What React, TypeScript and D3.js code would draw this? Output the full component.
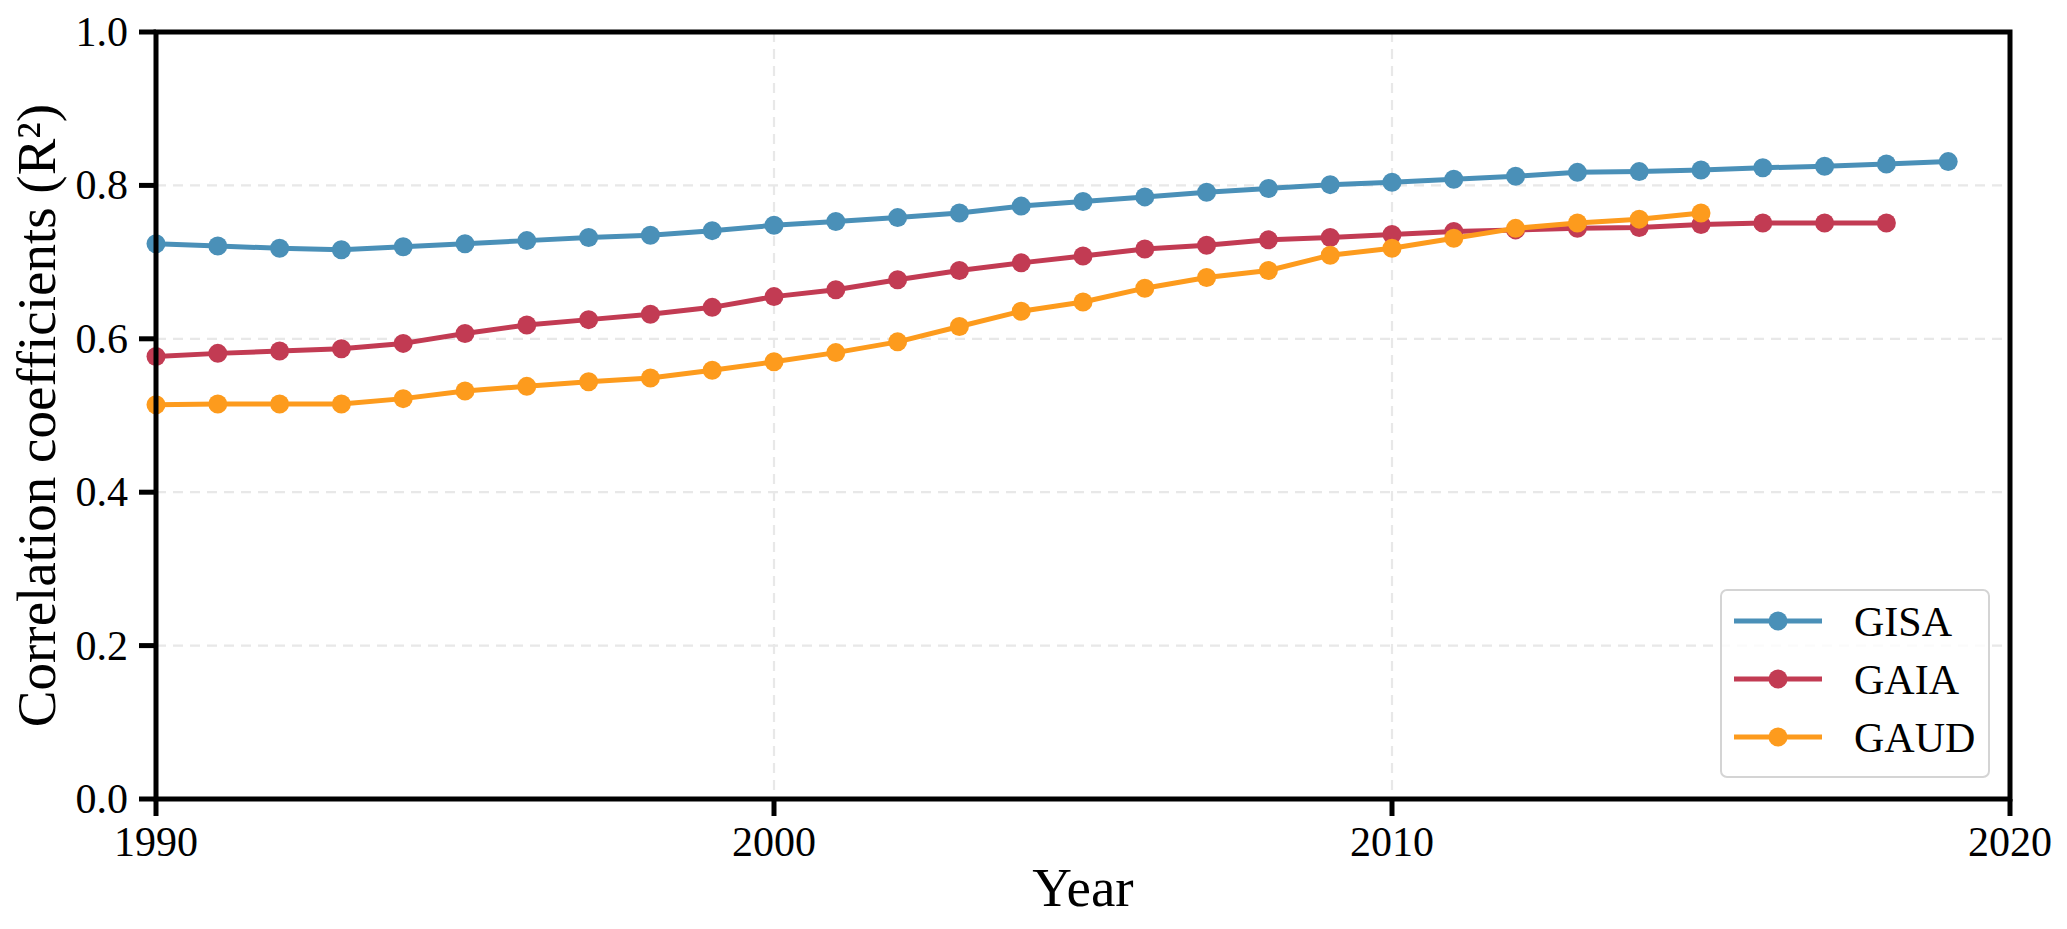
import React from "react";
import * as d3 from "d3";

const years: number[] = [
  1990, 1991, 1992, 1993, 1994, 1995, 1996, 1997, 1998, 1999,
  2000, 2001, 2002, 2003, 2004, 2005, 2006, 2007, 2008, 2009,
  2010, 2011, 2012, 2013, 2014, 2015, 2016, 2017, 2018, 2019,
];

const gisa: number[] = [
  0.724, 0.721, 0.718, 0.716, 0.72, 0.724, 0.728, 0.732, 0.735, 0.741,
  0.748, 0.753, 0.758, 0.764, 0.773, 0.779, 0.785, 0.791, 0.796, 0.801,
  0.804, 0.808, 0.812, 0.817, 0.818, 0.82, 0.823, 0.825, 0.828, 0.831,
];

const gaia: number[] = [
  0.577, 0.581, 0.584, 0.587, 0.594, 0.607, 0.618, 0.625, 0.632, 0.641,
  0.655, 0.664, 0.677, 0.689, 0.699, 0.708, 0.717, 0.722, 0.729, 0.732,
  0.736, 0.74, 0.742, 0.744, 0.745, 0.749, 0.751, 0.751, 0.751,
];

const gaud: number[] = [
  0.514, 0.515, 0.515, 0.515, 0.522, 0.532, 0.538, 0.544, 0.549, 0.559,
  0.57, 0.582, 0.596, 0.616, 0.636, 0.648, 0.666, 0.68, 0.689, 0.709,
  0.718, 0.731, 0.744, 0.751, 0.756, 0.764,
];

const seriesNames: string[] = ["GISA", "GAIA", "GAUD"];
const seriesColors: string[] = ["#4a90b8", "#c23b53", "#fd9b1d"];
const xTicks: number[] = [1990, 2000, 2010, 2020];
const yTicks: number[] = [0.0, 0.2, 0.4, 0.6, 0.8, 1.0];
const xGrid: number[] = [2000, 2010];
const yGrid: number[] = [0.2, 0.4, 0.6, 0.8];

const W = 2067;
const H = 929;
const FONT = "'Liberation Serif', 'Times New Roman', serif";

export default function App() {
  const left = 156, right = 2010, top = 32, bottom = 799;
  const x = d3.scaleLinear().domain([1990, 2020]).range([left, right]);
  const y = d3.scaleLinear().domain([0, 1]).range([bottom, top]);

  const all = [gisa, gaia, gaud];
  const line = d3
    .line<[number, number]>()
    .x((d) => x(d[0]))
    .y((d) => y(d[1]));

  const legendX = 1721, legendY = 590, legendW = 268, legendH = 187;
  const rowY = [621, 679, 737];

  return (
    <svg
      width={W}
      height={H}
      style={{ position: "absolute", left: 0, top: 0, background: "#fff" }}
      fontFamily={FONT}
    >
      <rect x={0} y={0} width={W} height={H} fill="#fff" />
      {/* grid */}
      <g stroke="#e8e8e8" strokeWidth={2.2} strokeDasharray="10 7">
        {yGrid.map((v) => (
          <line key={"gy" + v} x1={left} x2={right} y1={y(v)} y2={y(v)} />
        ))}
        {xGrid.map((v) => (
          <line key={"gx" + v} x1={x(v)} x2={x(v)} y1={top} y2={bottom} />
        ))}
      </g>
      {/* series */}
      {all.map((vals, i) => {
        const pts: [number, number][] = vals.map((v, j) => [years[j], v]);
        return (
          <g key={seriesNames[i]}>
            <path
              d={line(pts) || ""}
              fill="none"
              stroke={seriesColors[i]}
              strokeWidth={5}
              strokeLinejoin="round"
            />
            {pts.map((p, j) => (
              <circle key={j} cx={x(p[0])} cy={y(p[1])} r={9.5} fill={seriesColors[i]} />
            ))}
          </g>
        );
      })}
      {/* spines */}
      <rect
        x={left}
        y={top}
        width={right - left}
        height={bottom - top}
        fill="none"
        stroke="#000"
        strokeWidth={5}
      />
      {/* y ticks */}
      {yTicks.map((v) => (
        <g key={"yt" + v}>
          <line x1={left - 17} x2={left} y1={y(v)} y2={y(v)} stroke="#000" strokeWidth={5} />
          <text
            x={left - 28}
            y={y(v)}
            textAnchor="end"
            dominantBaseline="central"
            fontSize={42}
            fill="#000"
          >
            {v.toFixed(1)}
          </text>
        </g>
      ))}
      {/* x ticks */}
      {xTicks.map((v) => (
        <g key={"xt" + v}>
          <line x1={x(v)} x2={x(v)} y1={bottom} y2={bottom + 17} stroke="#000" strokeWidth={5} />
          <text x={x(v)} y={856} textAnchor="middle" fontSize={42} fill="#000">
            {v}
          </text>
        </g>
      ))}
      {/* axis labels */}
      <text x={(left + right) / 2} y={906} textAnchor="middle" fontSize={55} fill="#000">
        Year
      </text>
      <text
        transform={`translate(55, ${(top + bottom) / 2}) rotate(-90)`}
        textAnchor="middle"
        fontSize={55}
        fill="#000"
      >
        Correlation coefficients (R²)
      </text>
      {/* legend */}
      <rect
        x={legendX}
        y={legendY}
        width={legendW}
        height={legendH}
        rx={6}
        fill="#fff"
        fillOpacity={0.8}
        stroke="#d4d4d4"
        strokeWidth={2}
      />
      {seriesNames.map((n, i) => (
        <g key={"lg" + n}>
          <line
            x1={1734}
            x2={1822}
            y1={rowY[i]}
            y2={rowY[i]}
            stroke={seriesColors[i]}
            strokeWidth={5}
          />
          <circle cx={1778} cy={rowY[i]} r={9.5} fill={seriesColors[i]} />
          <text x={1854} y={rowY[i] + 15} fontSize={42} fill="#000">
            {n}
          </text>
        </g>
      ))}
    </svg>
  );
}
